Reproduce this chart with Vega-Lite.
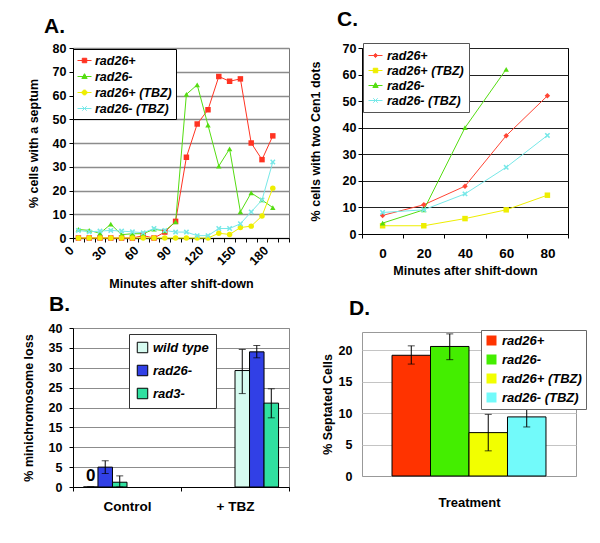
{
  "$schema": "https://vega.github.io/schema/vega-lite/v6.json",
  "background": "white",
  "padding": {"left": 21, "top": 8, "right": 0, "bottom": 0},
  "config": {
    "font": "Liberation Sans",
    "axis": {"labelFont": "Liberation Sans", "titleFont": "Liberation Sans", "labelFontWeight": "bold", "titleFontWeight": "bold", "labelColor": "black", "titleColor": "black", "labelFontSize": 12.5, "titleFontSize": 12.5, "domainColor": "black", "tickColor": "black", "tickSize": 4},
    "legend": {"labelFont": "Liberation Sans", "labelFontWeight": "bold", "labelFontStyle": "italic", "labelColor": "black", "labelFontSize": 12.5},
    "title": {"font": "Liberation Sans", "fontSize": 21, "fontWeight": "bold", "anchor": "start", "frame": "group", "color": "black"}
  },
  "bounds": "full",
  "spacing": 18,
  "resolve": {"scale": {"color": "independent", "shape": "independent", "x": "independent", "y": "independent", "xOffset": "independent"}, "legend": {"color": "independent", "shape": "independent"}},
  "hconcat": [
    {
      "bounds": "full",
      "spacing": 2,
      "resolve": {"scale": {"color": "independent", "shape": "independent", "x": "independent", "y": "independent", "xOffset": "independent"}, "legend": {"color": "independent", "shape": "independent"}},
      "vconcat": [
        {
          "width": 216, "height": 190,
          "view": {"stroke": "#777"},
          "title": {"text": "A.", "dx": -29, "offset": 5},
          "data": {"values": [
            {"minutes":0,"strain":"rad26+","pct":0},{"minutes":10,"strain":"rad26+","pct":0},{"minutes":20,"strain":"rad26+","pct":0},{"minutes":30,"strain":"rad26+","pct":0},{"minutes":40,"strain":"rad26+","pct":0},{"minutes":50,"strain":"rad26+","pct":0},{"minutes":60,"strain":"rad26+","pct":1},{"minutes":70,"strain":"rad26+","pct":0},{"minutes":80,"strain":"rad26+","pct":2.5},{"minutes":90,"strain":"rad26+","pct":7},{"minutes":100,"strain":"rad26+","pct":34},{"minutes":110,"strain":"rad26+","pct":48},{"minutes":120,"strain":"rad26+","pct":54},{"minutes":130,"strain":"rad26+","pct":68},{"minutes":140,"strain":"rad26+","pct":66},{"minutes":150,"strain":"rad26+","pct":67},{"minutes":160,"strain":"rad26+","pct":40},{"minutes":170,"strain":"rad26+","pct":33},{"minutes":180,"strain":"rad26+","pct":43},
            {"minutes":0,"strain":"rad26-","pct":3.6},{"minutes":10,"strain":"rad26-","pct":3.2},{"minutes":20,"strain":"rad26-","pct":2},{"minutes":30,"strain":"rad26-","pct":5.8},{"minutes":40,"strain":"rad26-","pct":1.4},{"minutes":50,"strain":"rad26-","pct":1.8},{"minutes":60,"strain":"rad26-","pct":1.8},{"minutes":70,"strain":"rad26-","pct":3.7},{"minutes":80,"strain":"rad26-","pct":3},{"minutes":90,"strain":"rad26-","pct":6.8},{"minutes":100,"strain":"rad26-","pct":60.5},{"minutes":110,"strain":"rad26-","pct":64.5},{"minutes":120,"strain":"rad26-","pct":47.5},{"minutes":130,"strain":"rad26-","pct":30.3},{"minutes":140,"strain":"rad26-","pct":37.5},{"minutes":150,"strain":"rad26-","pct":11},{"minutes":160,"strain":"rad26-","pct":19},{"minutes":170,"strain":"rad26-","pct":16},{"minutes":180,"strain":"rad26-","pct":12.8},
            {"minutes":0,"strain":"rad26+ (TBZ)","pct":0},{"minutes":10,"strain":"rad26+ (TBZ)","pct":0},{"minutes":20,"strain":"rad26+ (TBZ)","pct":0},{"minutes":30,"strain":"rad26+ (TBZ)","pct":0},{"minutes":40,"strain":"rad26+ (TBZ)","pct":0},{"minutes":50,"strain":"rad26+ (TBZ)","pct":0},{"minutes":60,"strain":"rad26+ (TBZ)","pct":0},{"minutes":70,"strain":"rad26+ (TBZ)","pct":0},{"minutes":80,"strain":"rad26+ (TBZ)","pct":0},{"minutes":90,"strain":"rad26+ (TBZ)","pct":0},{"minutes":100,"strain":"rad26+ (TBZ)","pct":0},{"minutes":110,"strain":"rad26+ (TBZ)","pct":0},{"minutes":120,"strain":"rad26+ (TBZ)","pct":0},{"minutes":130,"strain":"rad26+ (TBZ)","pct":2},{"minutes":140,"strain":"rad26+ (TBZ)","pct":1.5},{"minutes":150,"strain":"rad26+ (TBZ)","pct":4.4},{"minutes":160,"strain":"rad26+ (TBZ)","pct":5},{"minutes":170,"strain":"rad26+ (TBZ)","pct":9.3},{"minutes":180,"strain":"rad26+ (TBZ)","pct":21},
            {"minutes":0,"strain":"rad26- (TBZ)","pct":3.2},{"minutes":10,"strain":"rad26- (TBZ)","pct":2.6},{"minutes":20,"strain":"rad26- (TBZ)","pct":2.9},{"minutes":30,"strain":"rad26- (TBZ)","pct":3.2},{"minutes":40,"strain":"rad26- (TBZ)","pct":2.9},{"minutes":50,"strain":"rad26- (TBZ)","pct":2.6},{"minutes":60,"strain":"rad26- (TBZ)","pct":2.2},{"minutes":70,"strain":"rad26- (TBZ)","pct":4},{"minutes":80,"strain":"rad26- (TBZ)","pct":3.2},{"minutes":90,"strain":"rad26- (TBZ)","pct":2.5},{"minutes":100,"strain":"rad26- (TBZ)","pct":2.5},{"minutes":110,"strain":"rad26- (TBZ)","pct":1},{"minutes":120,"strain":"rad26- (TBZ)","pct":1},{"minutes":130,"strain":"rad26- (TBZ)","pct":4},{"minutes":140,"strain":"rad26- (TBZ)","pct":4},{"minutes":150,"strain":"rad26- (TBZ)","pct":6},{"minutes":160,"strain":"rad26- (TBZ)","pct":11},{"minutes":170,"strain":"rad26- (TBZ)","pct":16},{"minutes":180,"strain":"rad26- (TBZ)","pct":32}
          ]},
          "encoding": {
            "x": {"field": "minutes", "type": "ordinal",
              "scale": {"type": "band", "domain": [0,10,20,30,40,50,60,70,80,90,100,110,120,130,140,150,160,170,180,190], "paddingInner": 0, "paddingOuter": 0},
              "axis": {"title": "Minutes after shift-down", "labelAngle": -45, "labelAlign": "right", "labelBaseline": "middle", "labelOffset": -7, "labelExpr": "datum.value % 30 === 0 ? datum.label : ''", "labelOverlap": false, "tickBand": "extent", "labelPadding": 6, "titlePadding": 10, "labelFontSize": 12.5}},
            "y": {"field": "pct", "type": "quantitative",
              "scale": {"domain": [0, 80], "nice": false},
              "axis": {"title": "% cells with a septum", "values": [0,10,20,30,40,50,60,70,80], "grid": true, "gridColor": "#8c8c8c", "gridWidth": 1.5, "labelPadding": 3, "titlePadding": 12}},
            "color": {"field": "strain", "type": "nominal",
              "scale": {"domain": ["rad26+", "rad26-", "rad26+ (TBZ)", "rad26- (TBZ)"], "range": ["#ff3322", "#55dd11", "#eeee00", "#77e8e8"]},
              "legend": {"title": null, "orient": "none", "legendX": 0, "legendY": 1, "strokeColor": "black", "fillColor": "white", "padding": 4, "rowPadding": 2, "symbolSize": 196, "labelOffset": 3, "symbolStrokeWidth": 1,
                "encode": {"symbols": {"update": {
                  "shape": {"signal": "datum.value === 'rad26+' ? 'M-1,0H1M-0.32,-0.32H0.32V0.32H-0.32Z' : datum.value === 'rad26-' ? 'M-1,0H1M0,-0.4L0.38,0.28H-0.38Z' : datum.value === 'rad26+ (TBZ)' ? 'M-1,0H1M-0.35,0A0.35,0.35,0,1,0,0.35,0A0.35,0.35,0,1,0,-0.35,0Z' : 'M-1,0H1M-0.32,-0.32L0.32,0.32M-0.32,0.32L0.32,-0.32'"}
                }}}}}
          },
          "layer": [
            {"mark": {"type": "line", "strokeWidth": 1}},
            {"mark": {"type": "point", "filled": true, "opacity": 1, "size": 30},
             "encoding": {"shape": {"field": "strain", "type": "nominal", "legend": null,
               "scale": {"domain": ["rad26- (TBZ)", "rad26+ (TBZ)", "rad26-", "rad26+"], "range": ["M-1,-0.6L-0.6,-1L0,-0.4L0.6,-1L1,-0.6L0.4,0L1,0.6L0.6,1L0,0.4L-0.6,1L-1,0.6L-0.4,0Z", "circle", "triangle-up", "square"]}}}}
          ]
        },
        {
          "width": 216, "height": 159,
          "view": {"stroke": "#888"},
          "title": {"text": "B.", "dx": -24, "offset": 7},
          "data": {"values": [
            {"condition": "Control", "genotype": "wild type", "series": "Control: wild type", "pct": 0, "errHi": 0, "errLo": 0, "note": "0"},
            {"condition": "Control", "genotype": "rad26-", "series": "Control: rad26-", "pct": 5.0, "errHi": 1.6, "errLo": -1.6},
            {"condition": "Control", "genotype": "rad3-", "series": "Control: rad3-", "pct": 1.2, "errHi": 1.6, "errLo": -1.2},
            {"condition": "+ TBZ", "genotype": "wild type", "series": "+ TBZ: wild type", "pct": 29.3, "errHi": 5.3, "errLo": -5.8},
            {"condition": "+ TBZ", "genotype": "rad26-", "series": "+ TBZ: rad26-", "pct": 34.0, "errHi": 1.6, "errLo": -1.5},
            {"condition": "+ TBZ", "genotype": "rad3-", "series": "+ TBZ: rad3-", "pct": 21.1, "errHi": 3.6, "errLo": -3.7}
          ]},
          "encoding": {
            "x": {"field": "condition", "type": "ordinal", "sort": ["Control", "+ TBZ"],
              "scale": {"type": "band", "paddingInner": 0, "paddingOuter": 0},
              "axis": {"title": null, "labelAngle": 0, "tickBand": "extent", "labelPadding": 8, "labelFontSize": 13.5}},
            "xOffset": {"field": "series", "type": "nominal",
              "sort": ["Control: wild type", "Control: rad26-", "Control: rad3-", "+ TBZ: wild type", "+ TBZ: rad26-", "+ TBZ: rad3-"],
              "scale": {"paddingInner": 0, "paddingOuter": 0.72}},
            "y": {"field": "pct", "type": "quantitative", "scale": {"domain": [0, 40], "nice": false},
              "axis": {"title": "% minichromosome loss", "values": [0,5,10,15,20,25,30,35,40], "grid": true, "gridColor": "#8c8c8c", "labelPadding": 7, "titlePadding": 13}}
          },
          "layer": [
            {"mark": {"type": "bar", "stroke": "black", "strokeWidth": 1},
             "encoding": {
               "color": {"field": "genotype", "type": "nominal",
                 "scale": {"domain": ["wild type", "rad26-", "rad3-"], "range": ["#d6fbf0", "#3140e6", "#30e0a0"]},
                 "legend": {"title": null, "orient": "none", "legendX": 56, "legendY": 6, "strokeColor": "#333", "fillColor": "white", "padding": 7, "rowPadding": 8, "symbolType": "square", "symbolSize": 110, "symbolStrokeColor": "black", "symbolStrokeWidth": 1, "labelOffset": 4, "labelFontSize": 13}}
             }},
            {"mark": {"type": "errorbar", "color": "black", "thickness": 1, "ticks": {"size": 7, "color": "black"}, "rule": {"color": "black"}},
             "encoding": {"yError": {"field": "errHi"}, "yError2": {"field": "errLo"}}},
            {"transform": [{"filter": "isValid(datum.note)"}],
             "mark": {"type": "text", "fontSize": 17, "fontWeight": "bold", "dy": -11, "font": "Liberation Sans", "color": "black"},
             "encoding": {"text": {"field": "note"}}}
          ]
        }
      ]
    },
    {
      "bounds": "full",
      "spacing": 19,
      "resolve": {"scale": {"color": "independent", "shape": "independent", "x": "independent", "y": "independent", "xOffset": "independent"}, "legend": {"color": "independent", "shape": "independent"}},
      "vconcat": [
        {
          "width": 206, "height": 186,
          "view": {"stroke": "black"},
          "title": {"text": "C.", "dx": -25, "offset": 12},
          "data": {"values": [
            {"minutes":0,"series":"rad26+","pct":7},{"minutes":20,"series":"rad26+","pct":11},{"minutes":40,"series":"rad26+","pct":18},{"minutes":60,"series":"rad26+","pct":37},{"minutes":80,"series":"rad26+","pct":52},
            {"minutes":0,"series":"rad26+ (TBZ)","pct":3.1},{"minutes":20,"series":"rad26+ (TBZ)","pct":3.1},{"minutes":40,"series":"rad26+ (TBZ)","pct":5.8},{"minutes":60,"series":"rad26+ (TBZ)","pct":9.1},{"minutes":80,"series":"rad26+ (TBZ)","pct":14.6},
            {"minutes":0,"series":"rad26-","pct":4.1},{"minutes":20,"series":"rad26-","pct":9.1},{"minutes":40,"series":"rad26-","pct":40},{"minutes":60,"series":"rad26-","pct":62},
            {"minutes":0,"series":"rad26- (TBZ)","pct":8.1},{"minutes":20,"series":"rad26- (TBZ)","pct":9.1},{"minutes":40,"series":"rad26- (TBZ)","pct":15.1},{"minutes":60,"series":"rad26- (TBZ)","pct":25.1},{"minutes":80,"series":"rad26- (TBZ)","pct":37.1}
          ]},
          "encoding": {
            "x": {"field": "minutes", "type": "ordinal",
              "scale": {"type": "band", "domain": [0,20,40,60,80], "paddingInner": 0, "paddingOuter": 0},
              "axis": {"title": "Minutes after shift-down", "labelAngle": 0, "tickBand": "extent", "labelPadding": 8, "titlePadding": 5, "labelFontSize": 13.5}},
            "y": {"field": "pct", "type": "quantitative",
              "scale": {"domain": [0, 70], "nice": false},
              "axis": {"title": "% cells with two Cen1 dots", "values": [0,10,20,30,40,50,60,70], "grid": true, "gridColor": "#222", "labelPadding": 2, "titlePadding": 20}},
            "color": {"field": "series", "type": "nominal",
              "scale": {"domain": ["rad26+", "rad26+ (TBZ)", "rad26-", "rad26- (TBZ)"], "range": ["#ff4433", "#eeee00", "#55dd11", "#77e8e8"]},
              "legend": {"title": null, "orient": "none", "legendX": 1, "legendY": -5, "strokeColor": "#555", "fillColor": "white", "padding": 5, "rowPadding": 1, "symbolSize": 196, "labelOffset": 4, "symbolStrokeWidth": 1,
                "encode": {"symbols": {"update": {
                  "shape": {"signal": "datum.value === 'rad26+' ? 'M-1,0H1M0,-0.3L0.3,0L0,0.3L-0.3,0Z' : datum.value === 'rad26+ (TBZ)' ? 'M-1,0H1M-0.32,-0.32H0.32V0.32H-0.32Z' : datum.value === 'rad26-' ? 'M-1,0H1M0,-0.4L0.38,0.28H-0.38Z' : 'M-1,0H1M-0.32,-0.32L0.32,0.32M-0.32,0.32L0.32,-0.32'"}
                }}}}}
          },
          "layer": [
            {"mark": {"type": "line", "strokeWidth": 1}},
            {"mark": {"type": "point", "filled": true, "opacity": 1, "size": 30},
             "encoding": {"shape": {"field": "series", "type": "nominal", "legend": null,
               "scale": {"domain": ["rad26- (TBZ)", "rad26-", "rad26+ (TBZ)", "rad26+"], "range": ["M-1,-0.6L-0.6,-1L0,-0.4L0.6,-1L1,-0.6L0.4,0L1,0.6L0.6,1L0,0.4L-0.6,1L-1,0.6L-0.4,0Z", "triangle-up", "square", "diamond"]}}}}
          ]
        },
        {
          "width": 214, "height": 144,
          "view": {"stroke": "#999"},
          "title": {"text": "D.", "dx": -13, "offset": 11},
          "data": {"values": [
            {"treatment": "Treatment", "strain": "rad26+", "pct": 19.2, "errHi": 1.5, "errLo": -1.4},
            {"treatment": "Treatment", "strain": "rad26-", "pct": 20.6, "errHi": 2.0, "errLo": -2.1},
            {"treatment": "Treatment", "strain": "rad26+ (TBZ)", "pct": 6.9, "errHi": 2.9, "errLo": -2.9},
            {"treatment": "Treatment", "strain": "rad26- (TBZ)", "pct": 9.4, "errHi": 1.6, "errLo": -1.6}
          ]},
          "encoding": {
            "x": {"field": "treatment", "type": "ordinal",
              "scale": {"type": "band", "paddingInner": 0, "paddingOuter": 0},
              "axis": {"title": "Treatment", "labels": false, "ticks": false, "domainColor": "#999", "titlePadding": 20, "titleFontSize": 13}},
            "xOffset": {"field": "strain", "type": "nominal",
              "sort": ["rad26+", "rad26-", "rad26+ (TBZ)", "rad26- (TBZ)"],
              "scale": {"paddingInner": 0, "paddingOuter": 0.78}},
            "y": {"field": "pct", "type": "quantitative", "scale": {"domain": [0, 22.9], "nice": false},
              "axis": {"title": "% Septated Cells", "values": [0,5,10,15,20], "grid": true, "gridColor": "#c4c4c4", "ticks": false, "domain": false, "labelPadding": 10, "titlePadding": 4}}
          },
          "layer": [
            {"mark": {"type": "bar", "stroke": "black", "strokeWidth": 1},
             "encoding": {
               "color": {"field": "strain", "type": "nominal",
                 "scale": {"domain": ["rad26+", "rad26-", "rad26+ (TBZ)", "rad26- (TBZ)"], "range": ["#ff3300", "#44ee00", "#f2ff00", "#72fafa"]},
                 "legend": {"title": null, "orient": "none", "legendX": 119, "legendY": -2, "strokeColor": "#666", "fillColor": "white", "padding": 4, "rowPadding": 5, "symbolType": "square", "symbolSize": 100, "symbolStrokeWidth": 0, "labelOffset": 4, "labelFontSize": 13}}
             }},
            {"mark": {"type": "errorbar", "color": "black", "thickness": 1, "ticks": {"size": 7, "color": "black"}, "rule": {"color": "black"}},
             "encoding": {"yError": {"field": "errHi"}, "yError2": {"field": "errLo"}}}
          ]
        }
      ]
    }
  ]
}
